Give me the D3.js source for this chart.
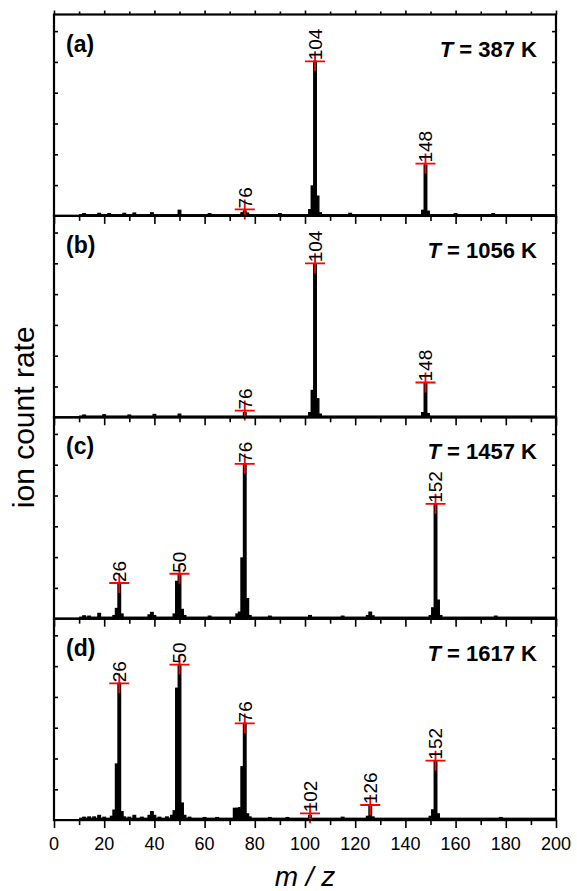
<!DOCTYPE html>
<html>
<head>
<meta charset="utf-8">
<script src="https://cdn.jsdelivr.net/npm/d3@7"></script>
<style>
    body { margin: 0; background: #fff; }
    svg { display: block; font-family: 'Liberation Sans', Arial, sans-serif; }
</style>
</head>
<body>
<svg id="ms-spectra" width="577" height="891"></svg>
<script>
// panel letters and temperatures
var panelLabels = ['(a)', '(b)', '(c)', '(d)'];
var temperatures = [387, 1056, 1457, 1617];

// x axis ticks (m/z)
var majorTicks = [0, 20, 40, 60, 80, 100, 120, 140, 160, 180, 200];
var minorTicks = [10, 30, 50, 70, 90, 110, 130, 150, 170, 190];
var yTicks = [1, 2, 3, 4, 5, 6];

// noise floor level of each panel (drawn from m/z 10 to 200)
var noiseFloor = [0.06, 0.06, 0.07, 0.08];

// spectra, [m/z, ion count rate] (arbitrary units)
var spectrumA = [[12, 0.07], [18, 0.08], [22, 0.07], [28, 0.08], [32, 0.09], [39, 0.1], [50, 0.18],
    [62, 0.07], [75, 0.1], [76, 0.16], [77, 0.09], [90, 0.07], [102, 0.2], [103, 0.97], [104, 5.02],
    [105, 0.64], [106, 0.1], [118, 0.08], [147, 0.18], [148, 1.65], [149, 0.15], [160, 0.07], [175, 0.07]];
var spectrumB = [[12, 0.07], [20, 0.08], [30, 0.07], [40, 0.09], [50, 0.1], [76, 0.15], [102, 0.15],
    [103, 0.87], [104, 4.98], [105, 0.6], [106, 0.1], [147, 0.15], [148, 1.1], [149, 0.12]];
var spectrumC = [[12, 0.09], [14, 0.08], [18, 0.17], [24, 0.1], [25, 0.33], [26, 1.16], [27, 0.15],
    [38, 0.12], [39, 0.2], [40, 0.1], [48, 0.15], [49, 1.21], [50, 1.46], [51, 0.3], [52, 0.1],
    [62, 0.08], [73, 0.15], [74, 0.21], [75, 1.97], [76, 5.03], [77, 0.65], [78, 0.1], [86, 0.08],
    [102, 0.1], [115, 0.08], [125, 0.1], [126, 0.21], [127, 0.09], [150, 0.1], [151, 0.35],
    [152, 3.7], [153, 0.6], [154, 0.1], [176, 0.08]];
var spectrumD = [[12, 0.09], [14, 0.1], [16, 0.1], [18, 0.15], [20, 0.09], [23, 0.12], [24, 0.32],
    [25, 1.82], [26, 4.44], [27, 0.27], [28, 0.1], [30, 0.09], [32, 0.15], [35, 0.09], [38, 0.15],
    [39, 0.27], [40, 0.15], [42, 0.09], [45, 0.1], [47, 0.15], [48, 0.3], [49, 4.28], [50, 5.05],
    [51, 0.55], [52, 0.15], [54, 0.09], [60, 0.08], [65, 0.08], [72, 0.38], [73, 0.38], [74, 0.4],
    [75, 1.73], [76, 3.14], [77, 0.2], [78, 0.1], [86, 0.08], [93, 0.08], [102, 0.15], [115, 0.09],
    [125, 0.12], [126, 0.45], [127, 0.1], [150, 0.12], [151, 0.33], [152, 1.9], [153, 0.2], [178, 0.08]];

// marked peaks (red crosses + labels)
var markersA = [[76, 0.21], [104, 5.02], [148, 1.70]];
var markersB = [[76, 0.22], [104, 5.0], [148, 1.13]];
var markersC = [[26, 1.16], [50, 1.46], [76, 5.03], [152, 3.73]];
var markersD = [[26, 4.44], [50, 5.05], [76, 3.14], [102, 0.22], [126, 0.49], [152, 1.93]];

var spectra = [spectrumA, spectrumB, spectrumC, spectrumD];
var markers = [markersA, markersB, markersC, markersD];

var svg = d3.select('#ms-spectra');

var plotLeft = 54,
    plotRight = 556,
    plotTop = 14.5,
    panelHeight = 201.4;

var x = d3.scaleLinear().domain([0, 200]).range([plotLeft, plotRight]);
var y = d3.scaleLinear().domain([0, 6.54]).range([panelHeight, 0]);

var barWidth = x(1) - x(0);

var noDomain = function(a) {
    a.select('.domain').remove();
};

panelLabels.forEach(function(label, i) {
    var g = svg.append('g').attr('transform', 'translate(0,' + (plotTop + i * panelHeight) + ')');

    // noise floor
    g.append('rect')
        .attr('x', x(10))
        .attr('width', x(200) - x(10))
        .attr('y', y(noiseFloor[i]))
        .attr('height', y(0) - y(noiseFloor[i]))
        .attr('fill', '#000');

    // spectrum bars
    g.selectAll('rect.bar')
        .data(spectra[i])
        .enter()
        .append('rect')
        .attr('class', 'bar')
        .attr('x', function(d) { return x(d[0] - 0.5); })
        .attr('width', barWidth)
        .attr('y', function(d) { return y(d[1]); })
        .attr('height', function(d) { return y(0) - y(d[1]); })
        .attr('fill', '#000')
        .attr('stroke', '#000')
        .attr('stroke-width', 1.4);

    // red cross markers
    var m = g.selectAll('g.marker')
        .data(markers[i])
        .enter()
        .append('g')
        .attr('class', 'marker')
        .attr('transform', function(d) { return 'translate(' + x(d[0]) + ',' + y(d[1]) + ')'; });

    m.append('path')
        .attr('d', 'M-10,0H10M0,-10V10')
        .attr('stroke', '#f00')
        .attr('stroke-width', 1.8)
        .attr('fill', 'none');

    m.append('text')
        .attr('transform', 'rotate(-90)')
        .attr('x', 1)
        .attr('y', 0)
        .attr('dy', '0.36em')
        .style('font-size', '19px')
        .text(function(d) { return d[0]; });

    // x ticks, pointing down from each panel's lower edge
    g.append('g')
        .attr('transform', 'translate(0,' + panelHeight + ')')
        .call(d3.axisBottom(x).tickValues(majorTicks).tickSize(8).tickFormat(''))
        .call(noDomain);
    g.append('g')
        .attr('transform', 'translate(0,' + panelHeight + ')')
        .call(d3.axisBottom(x).tickValues(minorTicks).tickSize(5).tickFormat(''))
        .call(noDomain);

    if (i === 0) {
        g.append('g')
            .call(d3.axisTop(x).tickValues(majorTicks).tickSize(4).tickFormat(''))
            .call(noDomain);
        g.append('g')
            .call(d3.axisTop(x).tickValues(minorTicks).tickSize(3).tickFormat(''))
            .call(noDomain);
    }

    // y ticks, inward on both sides
    g.append('g')
        .attr('transform', 'translate(' + plotLeft + ',0)')
        .call(d3.axisLeft(y).tickValues(yTicks).tickSize(-4).tickFormat(''))
        .call(noDomain);
    g.append('g')
        .attr('transform', 'translate(' + plotRight + ',0)')
        .call(d3.axisRight(y).tickValues(yTicks).tickSize(-4).tickFormat(''))
        .call(noDomain);

    g.selectAll('.tick line').attr('stroke', '#000').attr('stroke-width', 1.6);

    // frame
    g.append('rect')
        .attr('x', plotLeft)
        .attr('y', 0)
        .attr('width', plotRight - plotLeft)
        .attr('height', panelHeight)
        .attr('fill', 'none')
        .attr('stroke', '#000')
        .attr('stroke-width', 2.2);

    g.append('text')
        .attr('x', 66)
        .attr('y', 37)
        .style('font-size', '23px')
        .style('font-weight', 'bold')
        .text(label);

    var t = g.append('text')
        .attr('x', 537)
        .attr('y', 42)
        .attr('text-anchor', 'end')
        .style('font-size', '22px')
        .style('font-weight', 'bold');
    t.append('tspan').style('font-style', 'italic').text('T');
    t.append('tspan').text(' = ' + temperatures[i] + ' K');
});

// x tick labels under the last panel
var plotBottom = plotTop + 4 * panelHeight;
svg.append('g')
    .selectAll('text')
    .data(majorTicks)
    .enter()
    .append('text')
    .attr('x', function(d) { return x(d); })
    .attr('y', plotBottom + 30)
    .attr('text-anchor', 'middle')
    .style('font-size', '18px')
    .text(function(d) { return d; });

svg.append('text')
    .attr('x', (plotLeft + plotRight) / 2)
    .attr('y', 886)
    .attr('text-anchor', 'middle')
    .style('font-size', '28px')
    .style('font-style', 'italic')
    .text('m / z');

svg.append('text')
    .attr('transform', 'translate(34,' + (plotTop + 2 * panelHeight) + ') rotate(-90)')
    .attr('text-anchor', 'middle')
    .style('font-size', '30px')
    .text('ion count rate');
</script>
</body>
</html>
